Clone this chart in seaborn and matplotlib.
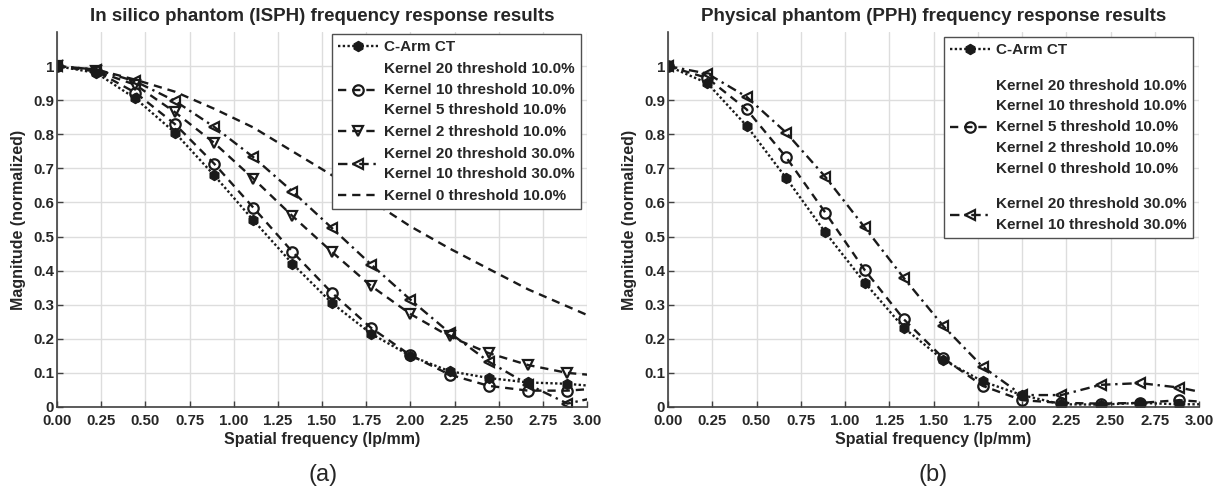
import pandas as pd
import seaborn as sns
import matplotlib.pyplot as plt
from matplotlib.ticker import FixedLocator, FixedFormatter

# spatial frequency samples (lp/mm), last one falls just outside the axis
freq = [0.000, 0.222, 0.444, 0.667, 0.889, 1.111, 1.333, 1.556, 1.778,
        2.000, 2.222, 2.444, 2.667, 2.889, 3.111]

# (a) in silico phantom
isph_carm = [1.00, 0.980, 0.905, 0.805, 0.680, 0.548, 0.420, 0.305, 0.215,
             0.150, 0.105, 0.085, 0.072, 0.068, 0.058]
isph_k10 = [1.00, 0.985, 0.922, 0.830, 0.714, 0.585, 0.455, 0.335, 0.232,
            0.152, 0.095, 0.062, 0.048, 0.048, 0.056]
isph_k2 = [1.00, 0.985, 0.945, 0.865, 0.775, 0.670, 0.560, 0.455, 0.355,
           0.273, 0.207, 0.158, 0.123, 0.100, 0.090]
isph_k20_30 = [1.00, 0.990, 0.955, 0.898, 0.822, 0.733, 0.632, 0.525, 0.418,
               0.315, 0.218, 0.133, 0.066, 0.010, 0.035]
isph_k0 = [1.00, 0.990, 0.960, 0.925, 0.875, 0.820, 0.750, 0.680, 0.605,
           0.530, 0.465, 0.405, 0.345, 0.295, 0.245]

# (b) physical phantom
pph_carm = [1.00, 0.950, 0.825, 0.672, 0.512, 0.365, 0.232, 0.138, 0.075,
            0.035, 0.008, 0.007, 0.012, 0.008, 0.008]
pph_k5 = [1.00, 0.965, 0.873, 0.733, 0.570, 0.402, 0.257, 0.143, 0.062,
          0.020, 0.012, 0.010, 0.012, 0.020, 0.012]
pph_k20_30 = [1.00, 0.978, 0.910, 0.805, 0.675, 0.527, 0.378, 0.237, 0.118,
              0.035, 0.035, 0.065, 0.070, 0.057, 0.033]

lab_carm = "C-Arm CT"
lab_isph_k10 = "Kernel 20 threshold 10.0%\nKernel 10 threshold 10.0%\nKernel 5 threshold 10.0%"
lab_isph_k2 = "Kernel 2 threshold 10.0%"
lab_k30 = "Kernel 20 threshold 30.0%\nKernel 10 threshold 30.0%"
lab_isph_k0 = "Kernel 0 threshold 10.0%"
lab_pph_k5 = ("Kernel 20 threshold 10.0%\nKernel 10 threshold 10.0%\nKernel 5 threshold 10.0%\n"
              "Kernel 2 threshold 10.0%\nKernel 0 threshold 10.0%")

xticks = [0, 0.25, 0.5, 0.75, 1.0, 1.25, 1.5, 1.75, 2.0, 2.25, 2.5, 2.75, 3.0]
xticklabels = ["%.2f" % t for t in xticks]
yticks = [0, 0.1, 0.2, 0.3, 0.4, 0.5, 0.6, 0.7, 0.8, 0.9, 1.0]
yticklabels = ["0", "0.1", "0.2", "0.3", "0.4", "0.5", "0.6", "0.7", "0.8", "0.9", "1"]

sns.set_theme(style="whitegrid")
plt.rcParams['font.family'] = ['Liberation Sans', 'DejaVu Sans']
plt.rcParams['font.weight'] = 'bold'
plt.rcParams['axes.labelweight'] = 'bold'
plt.rcParams['axes.titleweight'] = 'bold'

fig = plt.figure(figsize=(12.18, 4.91), dpi=100)
ax1 = fig.add_axes([57 / 1218, 84 / 491, 530 / 1218, 375 / 491])
ax2 = fig.add_axes([668 / 1218, 84 / 491, 531 / 1218, 375 / 491])

dot = (0, (1, 1))
dash = (0, (3.5, 2.5))
dashdot = (0, (4, 2, 1, 2))
open_mk = dict(markerfacecolor='none', markeredgecolor='k', markeredgewidth=1.6, markersize=7.5)
fill_mk = dict(markerfacecolor='k', markeredgecolor='k', markersize=7.5)


def draw(ax, y, ls, marker, mk, label):
    sns.lineplot(x=freq, y=y, ax=ax, color='k', linestyle=ls, linewidth=1.7,
                 marker=marker, label=label, legend=False, **mk)


draw(ax1, isph_carm, dot, 'h', fill_mk, lab_carm)
draw(ax1, isph_k10, dash, 'o', open_mk, lab_isph_k10)
draw(ax1, isph_k2, dash, 'v', open_mk, lab_isph_k2)
draw(ax1, isph_k20_30, dashdot, '<', open_mk, lab_k30)
draw(ax1, isph_k0, dash, None, {}, lab_isph_k0)

draw(ax2, pph_carm, dot, 'h', fill_mk, lab_carm)
draw(ax2, pph_k5, dash, 'o', open_mk, lab_pph_k5)
draw(ax2, pph_k20_30, dashdot, '<', open_mk, lab_k30)

titles = ["In silico phantom (ISPH) frequency response results",
          "Physical phantom (PPH) frequency response results"]
for ax, title in zip([ax1, ax2], titles):
    ax.set_xlim(0, 3.0)
    ax.set_ylim(0, 1.1)
    ax.xaxis.set_major_locator(FixedLocator(xticks))
    ax.xaxis.set_major_formatter(FixedFormatter(xticklabels))
    ax.yaxis.set_major_locator(FixedLocator(yticks))
    ax.yaxis.set_major_formatter(FixedFormatter(yticklabels))
    ax.tick_params(axis='both', direction='in', length=4, width=1, color='#404040',
                   labelsize=10.8, left=True, bottom=True)
    ax.tick_params(axis='x', pad=5)
    ax.tick_params(axis='y', pad=2)
    ax.grid(True, color='#dddddd', linewidth=1)
    ax.set_facecolor('white')
    for s in ['top', 'right']:
        ax.spines[s].set_visible(False)
    for s in ['left', 'bottom']:
        ax.spines[s].set_visible(True)
        ax.spines[s].set_color('#404040')
        ax.spines[s].set_linewidth(1.2)
    ax.set_title(title, fontsize=13.5, pad=8)
    ax.set_xlabel("Spatial frequency (lp/mm)", fontsize=11.5, labelpad=3)
    ax.set_ylabel("Magnitude (normalized)", fontsize=11.5, labelpad=5)

leg_style = dict(loc='upper right', fontsize=11, frameon=True, fancybox=False,
                 framealpha=1, edgecolor='#505050', borderaxespad=0, borderpad=0.4,
                 handlelength=2.6, handletextpad=0.4, bbox_transform=fig.transFigure)
leg1 = ax1.legend(handles=ax1.get_lines(), bbox_to_anchor=(581 / 1218, 1 - 34 / 491),
                  labelspacing=0.5, **leg_style)
leg2 = ax2.legend(handles=ax2.get_lines(), bbox_to_anchor=(1193 / 1218, 1 - 37 / 491),
                  labelspacing=1.4, **leg_style)
for leg in [leg1, leg2]:
    leg.get_frame().set_linewidth(1)
    for t in leg.get_texts():
        t.set_linespacing(1.62)

fig.text(323 / 1218, 1 - 475 / 491, "(a)", fontsize=17, fontweight='normal', ha='center', va='center')
fig.text(933 / 1218, 1 - 475 / 491, "(b)", fontsize=17, fontweight='normal', ha='center', va='center')

fig.savefig("out.png", dpi=100, facecolor='white')
